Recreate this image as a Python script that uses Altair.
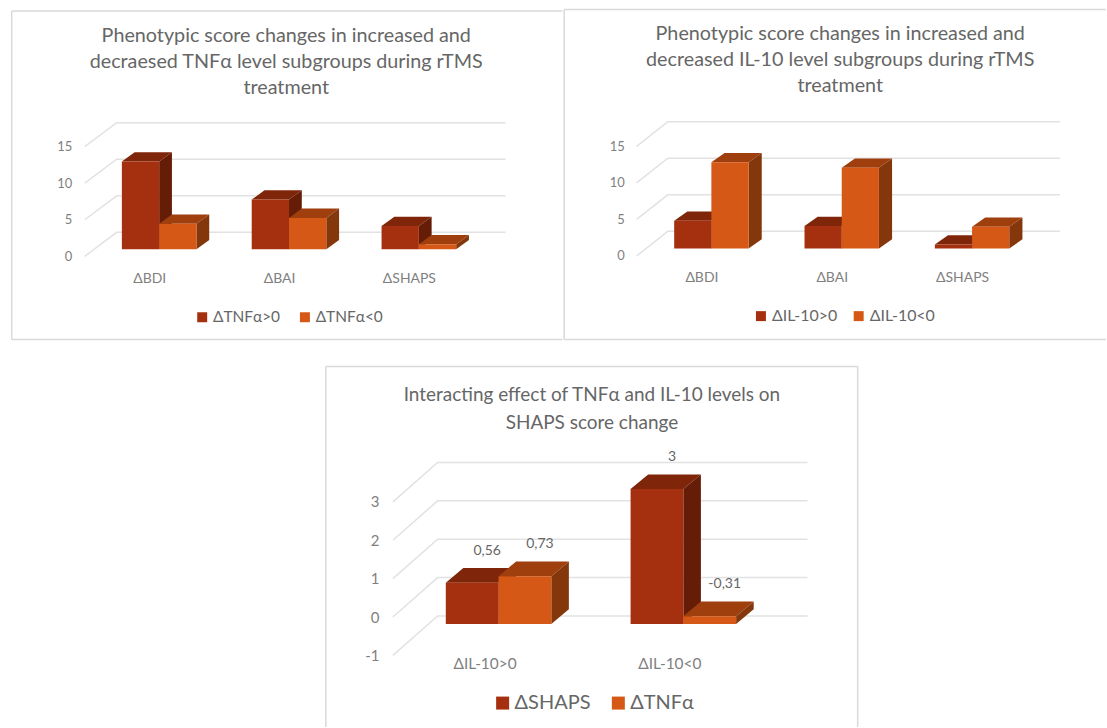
import altair as alt
import pandas as pd

RED, ORANGE = "#A5300F", "#D55816"
RED_TOP, RED_SIDE = "#7F2509", "#661D07"
ORANGE_TOP, ORANGE_SIDE = "#A03F0E", "#83370B"
GRID = "#E2E2E2"
FRAME = "#D9D9D9"
TITLE_COLOR = "#666666"
AXIS_COLOR = "#7F7F7F"
FONT = "Lato"

# Score changes by subgroup
score_categories = ["ΔBDI", "ΔBAI", "ΔSHAPS"]
tnf_series = ["ΔTNFα>0", "ΔTNFα<0"]
tnf_up = [12.0, 6.8, 3.2]
tnf_down = [3.5, 4.3, 0.7]
il10_series = ["ΔIL-10>0", "ΔIL-10<0"]
il10_up = [3.8, 3.1, 0.55]
il10_down = [11.8, 11.05, 3.0]

# Interaction of the two cytokines on SHAPS
inter_categories = ["ΔIL-10>0", "ΔIL-10<0"]
inter_series = ["ΔSHAPS", "ΔTNFα"]
inter_shaps = [0.56, 3.0]
inter_tnf = [0.73, -0.31]


def panel(cats, names, series, ticks, title, geo, labelled=False):
    """One pseudo-3D column chart; depth faces are derived from the values."""
    w, h = geo["w"], geo["h"]
    sx, sy = geo["sx"], geo["sy"]
    ux = lambda px: px / sx
    uy = lambda px: px / sy
    xdom = [1 - geo["cx"] / sx, 1 + (w - geo["cx"]) / sx]
    ydom = [(geo["y0"] - h) / sy, geo["y0"] / sy]
    xs = alt.Scale(domain=xdom, nice=False, zero=False)
    ys = alt.Scale(domain=ydom, nice=False, zero=False)
    no_title = dict(title=None)
    X = lambda f: alt.X(f, scale=xs, **no_title)
    Y = lambda f: alt.Y(f, scale=ys, stack=None, **no_title)

    rise = uy(geo["rise"])
    depth_x, depth_y = ux(geo["dx"]), uy(geo["dy"])
    bw = ux(geo["bw"])
    base = geo.get("floor", 0) + rise

    # Grid: front-left corner, back-left corner, then along the back wall
    grid_rows = []
    for t in ticks:
        pts = [(geo["gf"], t), (geo["gb"], t + uy(geo["gdy"])), (geo["gr"], t + uy(geo["gdy"]))]
        for k, (px, v) in enumerate(pts):
            grid_rows.append({"tick": t, "k": k, "x": 1 + (px - geo["cx"]) / sx, "v": v})
    label_js = "[" + ",".join(f"'{c}'" for c in cats) + "][datum.value-1]"
    grid = alt.Chart(pd.DataFrame(grid_rows)).mark_line(color=GRID, strokeWidth=1.5).encode(
        x=alt.X("x:Q", scale=xs, title=None, axis=alt.Axis(
            values=list(range(1, len(cats) + 1)), labelExpr=label_js, orient="bottom",
            offset=geo["xoff"], domain=False, ticks=False, grid=False,
            labelAngle=0, labelPadding=0, labelBaseline="middle", labelOffset=geo["xlab"],
            labelFont=FONT, labelFontSize=geo["cat_fs"], labelColor=AXIS_COLOR,
            labelOverlap=False, labelFlush=False, labelBound=False)),
        y=alt.Y("v:Q", scale=ys, title=None, axis=alt.Axis(
            values=ticks, labelExpr="toString(datum.value)", orient="left",
            offset=geo["yoff"], domain=False, ticks=False, grid=False,
            labelPadding=0, labelFont=FONT, labelFontSize=geo["tick_fs"], labelColor=AXIS_COLOR,
            labelOverlap=False, labelFlush=False, labelBound=False)),
        detail="tick:N", order="k:Q")

    layers = [grid]
    palette = [(RED, RED_TOP, RED_SIDE), (ORANGE, ORANGE_TOP, ORANGE_SIDE)]
    fronts = []
    for s, (name, vals) in enumerate(zip(names, series)):
        top_rows, side_rows = [], []
        for i, v in enumerate(vals):
            left = i + 1 + (s - 1) * bw
            right = left + bw
            top = v + rise
            fronts.append({"series": name, "x": left, "x2": right, "y": base, "y2": top})
            for k in (0, 1):
                top_rows.append({"id": i, "x": left + k * depth_x, "x2": right + k * depth_x,
                                 "y": top + k * depth_y})
                side_rows.append({"id": i, "x": right + k * depth_x, "y": base + k * depth_y,
                                  "y2": top + k * depth_y})
        layers.append(alt.Chart(pd.DataFrame(top_rows)).mark_area(
            orient="horizontal", color=palette[s][1]).encode(
            y=Y("y:Q"), x=X("x:Q"), x2="x2:Q", detail="id:N"))
        layers.append(alt.Chart(pd.DataFrame(side_rows)).mark_area(
            orient="vertical", color=palette[s][2]).encode(
            x=X("x:Q"), y=Y("y:Q"), y2="y2:Q", detail="id:N"))
    layers.append(alt.Chart(pd.DataFrame(fronts)).mark_rect().encode(
        x=X("x:Q"), x2="x2:Q", y=Y("y:Q"), y2="y2:Q",
        color=alt.Color("series:N", scale=alt.Scale(domain=names, range=[RED, ORANGE]),
                        legend=alt.Legend(
                            orient="none", legendX=geo["lx"], legendY=geo["ly"],
                            direction="horizontal", title=None, symbolType="square",
                            symbolSize=geo["sym"], symbolStrokeWidth=0, padding=0,
                            labelFont=FONT, labelFontSize=geo["leg_fs"], labelColor=TITLE_COLOR,
                            labelOffset=geo["leg_off"], columnPadding=geo["leg_gap"],
                            symbolOpacity=1))))

    if labelled:
        rows = []
        for s, vals in enumerate(series):
            for i, v in enumerate(vals):
                rows.append({"x": i + 1 + (s - 0.5) * bw, "y": v + rise,
                             "t": f"{v:g}".replace(".", ",")})
        layers.append(alt.Chart(pd.DataFrame(rows)).mark_text(
            font=FONT, fontSize=geo["lab_fs"], color=TITLE_COLOR, dx=geo["lab_dx"], dy=geo["lab_dy"]).encode(
            x=X("x:Q"), y=Y("y:Q"), text="t:N"))

    for line, ty in zip(title, geo["ty"]):
        layers.append(alt.Chart(pd.DataFrame({"t": [line]})).mark_text(
            font=FONT, fontSize=geo["title_fs"], color=TITLE_COLOR, baseline="middle").encode(
            x=alt.value(geo["tx"]), y=alt.value(ty), text="t:N"))

    # Frame edges that stay on the page
    for (x1, y1, x2, y2) in geo["frame"]:
        layers.append(alt.Chart(pd.DataFrame({"a": [0]})).mark_rule(
            color=FRAME, strokeWidth=1.5).encode(
            x=alt.value(x1), y=alt.value(y1), x2=alt.value(x2), y2=alt.value(y2)))

    return alt.layer(*layers).properties(width=w, height=h)


geo1 = dict(w=553, h=332, cx=148.6, sx=130.2, y0=248, sy=7.33, rise=7, bw=37.4, dx=12.8, dy=9.3,
            gf=74, gb=106, gr=496, gdy=24, yoff=-61, xoff=-62, xlab=-10,
            tick_fs=13, cat_fs=14, title_fs=19.8, tx=276, ty=[27, 53, 79],
            lx=184, ly=301, sym=100, leg_fs=15.5, leg_off=3, leg_gap=17,
            frame=[(0.75, 2, 0.75, 331.5), (0.75, 2, 553, 2), (0.75, 331.5, 553, 331.5)])
geo2 = dict(w=544, h=332, cx=148.3, sx=130.7, y0=247.7, sy=7.33, rise=7.4, bw=37.3, dx=13.2, dy=9.3,
            gf=73.3, gb=104.6, gr=497.8, gdy=24.7, yoff=-61, xoff=-63, xlab=-10,
            tick_fs=13, cat_fs=14, title_fs=19.8, tx=277.5, ty=[24.7, 51.3, 77.7],
            lx=190, ly=300, sym=100, leg_fs=16, leg_off=3, leg_gap=13,
            frame=[(0.75, 0.5, 0.75, 331.5), (0.75, 0.5, 544, 0.5), (0.75, 331.5, 544, 331.5)])
geo3 = dict(w=535, h=362, cx=173.9, sx=185.3, y0=251.7, sy=38.5, rise=12.8, bw=52.9, dx=17.6, dy=14.7,
            gf=68, gb=112.8, gr=483.7, gdy=39.5, yoff=-54, xoff=-64, xlab=-14, floor=-0.514,
            tick_fs=15, cat_fs=15.5, title_fs=19, tx=267.5, ty=[29, 57],
            lx=168, ly=328, sym=170, leg_fs=20, leg_off=2, leg_gap=17,
            lab_fs=14, lab_dx=15, lab_dy=-32,
            frame=[(0.75, 0.5, 0.75, 362), (0.75, 0.5, 534, 0.5), (534, 0.5, 534, 362)])

chart_tnf = panel(score_categories, tnf_series, [tnf_up, tnf_down], [0, 5, 10, 15],
                  ["Phenotypic score changes in increased and",
                   "decraesed  TNFα level subgroups during rTMS", "treatment"], geo1)
chart_il10 = panel(score_categories, il10_series, [il10_up, il10_down], [0, 5, 10, 15],
                   ["Phenotypic score changes in increased and",
                    "decreased IL-10 level subgroups during rTMS", "treatment"], geo2)
chart_inter = panel(inter_categories, inter_series, [inter_shaps, inter_tnf], [-1, 0, 1, 2, 3],
                    ["Interacting effect of TNFα and IL-10 levels on", "SHAPS score change"],
                    geo3, labelled=True)

spacer = alt.Chart(pd.DataFrame({"a": [0]})).mark_point(opacity=0).encode(
    x=alt.value(0), y=alt.value(0)).properties(width=315, height=362)

chart = alt.vconcat(
    alt.hconcat(chart_tnf, chart_il10, spacing=0).resolve_scale(color="independent"),
    alt.hconcat(spacer, chart_inter, spacing=0).resolve_scale(color="independent"),
    spacing=22,
).resolve_scale(color="independent").properties(
    padding={"left": 8, "top": 7, "right": 0, "bottom": 0},
    background="white",
).configure_view(stroke=None)

chart.save("out.html", embed_options={"renderer": "svg", "actions": False})
